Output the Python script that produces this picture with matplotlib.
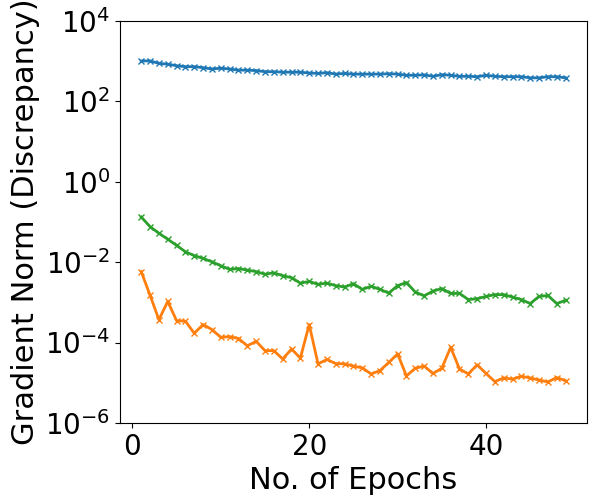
import numpy as np
import matplotlib
matplotlib.use("Agg")
import matplotlib.pyplot as plt

epochs = list(range(1, 50))

# values (log scale)
blue_vals = [1000, 1000, 870, 830, 760, 720, 720, 680, 630, 660,
             630, 590, 590, 575, 540, 540, 525, 525, 525, 500,
             490, 510, 470, 490, 470, 470, 470, 470, 480, 470,
             440, 440, 450, 415, 455, 440, 415, 415, 405, 440,
             415, 405, 405, 405, 380, 380, 405, 405, 380]

orange_vals = [5.8e-3, 1.5e-3, 3.7e-4, 1.05e-3, 3.5e-4, 3.4e-4, 1.7e-4, 2.8e-4, 2.1e-4, 1.35e-4,
               1.4e-4, 1.26e-4, 8.3e-5, 1.07e-4, 6.3e-5, 6.3e-5, 3.9e-5, 6.9e-5, 4.1e-5, 2.8e-4,
               2.95e-5, 3.8e-5, 3.0e-5, 2.95e-5, 2.6e-5, 2.35e-5, 1.66e-5, 2.0e-5, 3.2e-5, 5.2e-5,
               1.48e-5, 2.3e-5, 2.6e-5, 1.7e-5, 2.3e-5, 7.6e-5, 2.2e-5, 1.66e-5, 2.8e-5, 1.7e-5,
               1.07e-5, 1.32e-5, 1.23e-5, 1.45e-5, 1.32e-5, 1.17e-5, 1.05e-5, 1.35e-5, 1.12e-5]

green_vals = [0.132, 0.076, 0.052, 0.037, 0.026, 0.018, 0.0145, 0.0123, 0.0102, 0.0081,
              0.0066, 0.0069, 0.0063, 0.0058, 0.0050, 0.0054, 0.0046, 0.0041, 0.0030, 0.0033,
              0.0028, 0.0030, 0.0026, 0.0024, 0.0029, 0.0021, 0.0025, 0.0021, 0.0017, 0.0026,
              0.0031, 0.0018, 0.00145, 0.0019, 0.0022, 0.00166, 0.00166, 0.00117, 0.00123, 0.0014,
              0.00155, 0.00155, 0.00135, 0.00117, 0.00093, 0.0014, 0.00148, 0.00093, 0.00112]


fig = plt.figure(figsize=(6, 5), dpi=100)
ax = fig.add_axes([0.2, 0.154, 0.778, 0.8046])

ax.plot(epochs, blue_vals, marker='x', color='C0', lw=2, ms=5)
ax.plot(epochs, orange_vals, marker='x', color='C1', lw=2, ms=5)
ax.plot(epochs, green_vals, marker='x', color='C2', lw=2, ms=5)

ax.set_yscale('log')
ax.set_ylim(1e-6, 1e4)
ax.set_yticks([1e-6, 1e-4, 1e-2, 1e0, 1e2, 1e4])
ax.yaxis.set_minor_locator(matplotlib.ticker.NullLocator())

ax.tick_params(labelsize=20)
ax.set_xlabel('No. of Epochs', fontsize=22)
ax.set_ylabel('Gradient Norm (Discrepancy)', fontsize=22)

fig.savefig('out.png', dpi=100)
